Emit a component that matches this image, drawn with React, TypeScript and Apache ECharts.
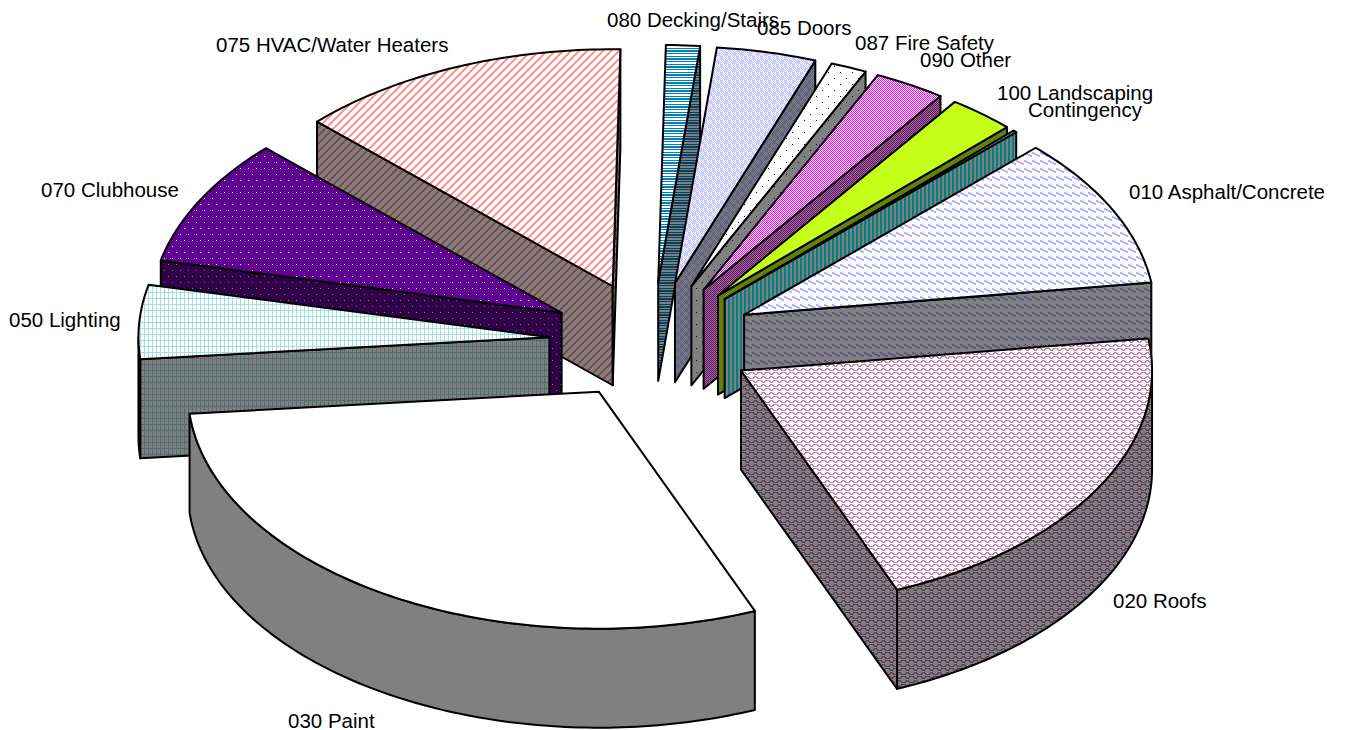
import React, { useEffect, useRef } from "react";
import * as echarts from "echarts";

const categories = ["010 Asphalt/Concrete", "020 Roofs", "030 Paint", "050 Lighting", "070 Clubhouse", "075 HVAC/Water Heaters", "080 Decking/Stairs", "085 Doors", "087 Fire Safety", "090 Other", "100 Landscaping", "Contingency"];
const shares = [10.28, 20.97, 29.72, 5.03, 8.67, 13.08, 1.33, 3.92, 1.42, 2.81, 2.64, 0.14];

// layout of the 3D pie
const FIRST_ANGLE = 45.2;
const CX = 652, CY = 341, RX = 411, RY = 237, DEPTH = 99, EXPLODE = 0.25;

// label anchors (left, middle)
const labelX = [1129, 1113, 288, 9, 41, 216, 607, 757, 855, 920, 997, 1028];
const labelY = [191, 600, 720, 319, 189, 44, 19, 27, 42, 59, 92, 109];

const sparse = (w: number, h: number, dots: number[][]) =>
  Array.from({ length: h }, (_, y) => Array.from({ length: w }, (_, x) => (dots.some((d) => d[0] === x && d[1] === y) ? "x" : ".")).join(""));

// two-colour hatch tiles ("x" = foreground)
const tiles: { fg: string; bg: string; rows: string[] }[] = [
  { fg: "#b0b0ff", bg: "#ffffff", rows: ["xx......", "xxxx....", "..xxxx..", "....xxxx", "......xx", "........", "........", "........"] },
  { fg: "#c080b0", bg: "#ffffff", rows: ["..xxx...", ".xx.xx..", "xx...xxx", "........", "xx...xxx", ".xx.xx..", "..xxx...", "........"] },
  { fg: "#fffffc", bg: "#ffffff", rows: ["x...", "....", "..x.", "...."] },
  { fg: "#a0e0e0", bg: "#ffffff", rows: ["x...", "x...", "x...", "x...", "xxxx", "x..."] },
  { fg: "#ffffff", bg: "#600090", rows: sparse(8, 12, [[0, 0], [4, 6]]) },
  { fg: "#ff9797", bg: "#ffffff", rows: ["....xxx.", "...xxx..", "..xxx...", ".xxx....", "xxx.....", "xx.....x", "x.....xx", ".....xxx"] },
  { fg: "#0080c0", bg: "#ffffff", rows: ["xxxx", "....", "xxxx", "xxxx", "....", "xxxx", "....", "...."] },
  { fg: "#ccccff", bg: "#ffffff", rows: ["xxx.x.x.", "xxxx.x.x", "xxx.x.x.", "xxxx.x.x", ".x.xxxxx", "x.x.xxxx", ".x.xxxxx", "x.x.xxxx"] },
  { fg: "#000080", bg: "#ffffff", rows: sparse(12, 12, [[0, 0], [6, 6]]) },
  { fg: "#ff00ff", bg: "#ffffff", rows: ["x.", ".x"] },
  { fg: "#e0ff00", bg: "#aaff33", rows: ["x.", ".x"] },
  { fg: "#00ffff", bg: "#ffffff", rows: ["xx..", "xx..", "xx..", "xx.."] },
];

const half = (hex: string) => {
  const n = parseInt(hex.slice(1), 16);
  const c = [(n >> 16) & 255, (n >> 8) & 255, n & 255].map((v) => Math.round(v / 2));
  return `rgb(${c[0]},${c[1]},${c[2]})`;
};

function makePattern(i: number, dark: boolean) {
  const t = tiles[i];
  const h = t.rows.length, w = t.rows[0].length;
  const cv = document.createElement("canvas");
  cv.width = w; cv.height = h;
  const ctx = cv.getContext("2d")!;
  for (let y = 0; y < h; y++) for (let x = 0; x < w; x++) {
    const col = t.rows[y][x] === "x" ? t.fg : t.bg;
    ctx.fillStyle = dark ? half(col) : col;
    ctx.fillRect(x, y, 1, 1);
  }
  return { image: cv, repeat: "repeat" } as any;
}

export default function App() {
  const ref = useRef<HTMLDivElement>(null);
  useEffect(() => {
    const chart = echarts.init(ref.current!, null, { renderer: "svg" });
    const total = shares.reduce((a, b) => a + b, 0);
    const rad = (d: number) => (d * Math.PI) / 180;
    let acc = FIRST_ANGLE;
    const slices = shares.map((v, i) => {
      const a0 = acc, a1 = acc + (v / total) * 360;
      acc = a1;
      const mid = rad((a0 + a1) / 2);
      const ax = CX + EXPLODE * RX * Math.sin(mid);
      const ay = CY - EXPLODE * RY * Math.cos(mid);
      return { i, v, a0, a1, ax, ay };
    });
    const order = [...slices].sort((p, q) => p.ay - q.ay);
    const patterns = tiles.map((_, i) => ({ top: makePattern(i, false), wall: makePattern(i, true) }));

    const renderItem = (_p: any, api: any) => {
      const i = api.value(0), a0 = api.value(1), a1 = api.value(2);
      const mid = rad((a0 + a1) / 2);
      const ax = CX + EXPLODE * RX * Math.sin(mid);
      const ay = CY - EXPLODE * RY * Math.cos(mid);
      const pt = (deg: number) => [ax + RX * Math.sin(rad(deg)), ay - RY * Math.cos(rad(deg))];
      const arc = (d0: number, d1: number) => {
        const n = Math.max(2, Math.ceil(Math.abs(d1 - d0)));
        return Array.from({ length: n + 1 }, (_, k) => pt(d0 + ((d1 - d0) * k) / n));
      };
      const down = (p: number[]) => [p[0], p[1] + DEPTH];
      const border = { stroke: "#000", lineWidth: 2, lineJoin: "round" };
      const kids: any[] = [];
      const wall = (points: number[][]) => kids.push({ type: "polygon", shape: { points }, style: { fill: patterns[i].wall, ...border } });
      const s = Math.sin(rad(a0)), e = Math.sin(rad(a1));
      if (s < 0) wall([[ax, ay], pt(a0), down(pt(a0)), [ax, ay + DEPTH]]);
      if (e > 0) wall([[ax, ay], pt(a1), down(pt(a1)), [ax, ay + DEPTH]]);
      // outer rim: only the front half of the ellipse (90..270 deg) faces the viewer
      const r0 = Math.max(a0, 90), r1 = Math.min(a1, 270);
      if (r1 > r0) {
        const top = arc(r0, r1);
        wall([...top, ...top.slice().reverse().map(down)]);
      }
      kids.push({ type: "polygon", shape: { points: [[ax, ay], ...arc(a0, a1)] }, style: { fill: patterns[i].top, ...border } });
      return { type: "group", children: kids };
    };

    chart.setOption({
      animation: false,
      backgroundColor: "#ffffff",
      series: [{
        type: "custom",
        coordinateSystem: "none",
        silent: true,
        renderItem,
        encode: {},
        data: order.map((o) => ({ name: categories[o.i], value: [o.i, o.a0, o.a1, o.v] })),
      }],
      graphic: categories.map((name, i) => ({
        type: "text",
        x: labelX[i],
        y: labelY[i],
        z: 10,
        style: { text: name, fill: "#000", font: '20.5px "Liberation Sans", Arial, sans-serif', textAlign: "left", textVerticalAlign: "middle" },
      })),
    });
    return () => chart.dispose();
  }, []);
  return <div ref={ref} style={{ position: "absolute", left: 0, top: 0, width: 1346, height: 730 }} />;
}
